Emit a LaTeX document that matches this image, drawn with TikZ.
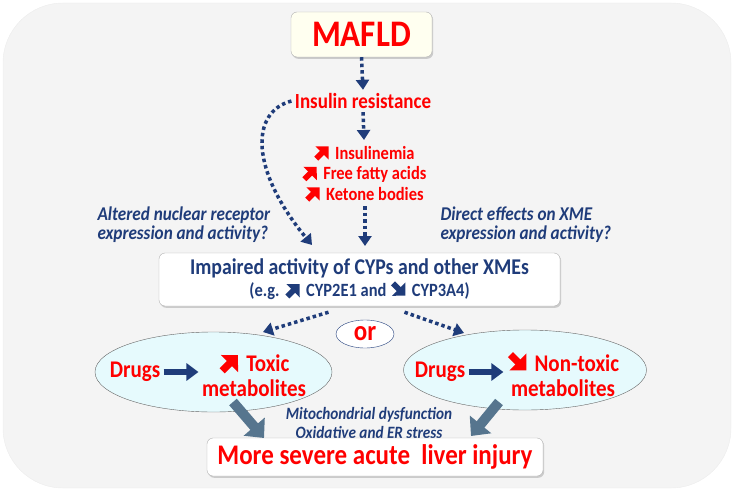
\documentclass[tikz,border=0pt]{standalone}
\usepackage{fontspec}
\setmainfont{Carlito}[FakeStretch=0.88]
\usetikzlibrary{arrows.meta,shadows,positioning,shapes.geometric}

\definecolor{navyblue}{HTML}{1F3C7A}
\definecolor{alarmred}{HTML}{FF0000}
\definecolor{slateblue}{HTML}{56758E}
\definecolor{bggray}{HTML}{F4F4F4}
\definecolor{palecyan}{HTML}{E6FAFD}
\definecolor{mafldfill}{HTML}{FFFFF0}

% small thick arrows used inside the texts
\newcommand{\uparw}[1]{\tikz[baseline=0pt]\draw[#1,line width=0.3em,-{Triangle[length=0.5em,width=0.98em]}] (0.02em,0.02em) -- (0.68em,0.68em);}
\newcommand{\dnarw}[1]{\tikz[baseline=0pt]\draw[#1,line width=0.3em,-{Triangle[length=0.5em,width=0.98em]}] (0.02em,0.72em) -- (0.68em,0.06em);}

\tikzset{
  dotarr/.style={navyblue,line width=3.5pt,dash pattern=on 3.5pt off 3pt,-{Triangle[length=10pt,width=13pt]}},
  boxed/.style={draw=gray!60,rounded corners=6pt,fill=white,
    drop shadow={opacity=0.35,shadow xshift=1.2pt,shadow yshift=-1.8pt}},
  redtxt/.style={text=alarmred,font=\bfseries},
  bluetxt/.style={text=navyblue,font=\bfseries\itshape},
  oval/.style={ellipse,draw=gray!80!black,fill=palecyan,minimum height=80pt},
  fatarr/.style={slateblue,line width=10pt,-{Triangle[length=15pt,width=27pt]}},
  drugarr/.style={navyblue,line width=6pt,-{Triangle[length=12pt,width=17pt]}}
}

\begin{document}
\begin{tikzpicture}[x=1pt,y=-1pt]
\useasboundingbox (0,0) rectangle (735,492);
\fill[bggray,draw=gray!15,rounded corners=60pt] (3,3) rectangle (731,488);

% top of the cascade
\node[boxed,fill=mafldfill,minimum width=141pt,minimum height=45pt,redtxt,font=\bfseries\fontsize{37.5}{40}\selectfont] (mafld) at (361.5,34.5) {MAFLD};
\node[redtxt,font=\bfseries\fontsize{21.6}{23}\selectfont] (ir) at (363,101) {Insulin resistance};
\node[redtxt,align=center,font=\bfseries\fontsize{18.7}{20.5}\selectfont] (hyper) at (364,173)
  {\uparw{alarmred} Insulinemia\\ \uparw{alarmred} Free fatty acids\\ \uparw{alarmred} Ketone bodies};

\node[bluetxt,align=left,anchor=west,font=\bfseries\itshape\fontsize{19.5}{19}\selectfont] (nucl) at (94,225)
  {Altered nuclear receptor\\expression and activity?};
\node[bluetxt,align=left,anchor=west,font=\bfseries\itshape\fontsize{19.5}{19}\selectfont] (direct) at (437,225)
  {Direct effects on XME\\expression and activity?};

\node[boxed,minimum width=401pt,minimum height=53pt,text=navyblue,align=center,font=\bfseries\fontsize{22.5}{23}\selectfont] (cyp) at (359.5,279.5)
  {Impaired activity of CYPs and other XMEs\\[-1pt]{\fontsize{18.7}{17}\selectfont (e.g. \uparw{navyblue} CYP2E1 and \dnarw{navyblue} CYP3A4)}};

% the two outcomes
\node[ellipse,draw=navyblue,fill=white,minimum width=58pt,minimum height=28pt,inner sep=0pt,redtxt,font=\bfseries\fontsize{28.4}{28}\selectfont] (or) at (365,334) {or};

\node[oval,minimum width=237pt] (toxE) at (213.5,372) {};
\node[oval,minimum width=243pt] (nonE) at (525,370) {};
\node[redtxt,font=\bfseries\fontsize{23.9}{25}\selectfont] (drugL) at (135,372) {Drugs};
\node[redtxt,align=center,font=\bfseries\fontsize{23.9}{25}\selectfont] (toxic) at (254,374) {\uparw{alarmred} Toxic\\metabolites};
\node[redtxt,font=\bfseries\fontsize{23.9}{25}\selectfont] (drugR) at (440,372) {Drugs};
\node[redtxt,align=center,font=\bfseries\fontsize{23.9}{25}\selectfont] (nontoxic) at (563,374) {\dnarw{alarmred} Non-toxic\\metabolites};

\node[bluetxt,align=center,font=\bfseries\itshape\fontsize{17.3}{19}\selectfont] (stress) at (369,423)
  {Mitochondrial dysfunction\\Oxidative and ER stress};

\node[boxed,minimum width=336pt,minimum height=38pt,redtxt,font=\bfseries\fontsize{28.4}{30}\selectfont] (injury) at (375,457)
  {More severe acute\ \ liver injury};

% free ends of the connectors
\coordinate (cL) at (312,245);
\coordinate (cR) at (365,246);
\coordinate (oL) at (263,332);
\coordinate (oR) at (464,333);
\coordinate (tL) at (233,402);
\coordinate (iL) at (264,438);
\coordinate (tR) at (499,402);
\coordinate (iR) at (471,436);

% dotted arrows
\draw[dotarr] (mafld.south) -- (ir.north);
\draw[dotarr] (ir.south) -- (hyper.north);
\draw[dotarr] (hyper.south -| cR) -- (cR);
\draw[dotarr] (ir.west) .. controls (250,112) and (250,170) .. (cL);
\draw[dotarr] ([xshift=-31pt,yshift=-6pt]cyp.south) -- (oL);
\draw[dotarr] ([xshift=45pt,yshift=-6pt]cyp.south) -- (oR);

% solid arrows
\draw[drugarr] (drugL.east) -- (toxic.west |- drugL.east);
\draw[drugarr] (drugR.east) -- (nontoxic.west |- drugR.east);
\draw[fatarr] (tL) -- (iL);
\draw[fatarr] (tR) -- (iR);

\end{tikzpicture}
\end{document}
